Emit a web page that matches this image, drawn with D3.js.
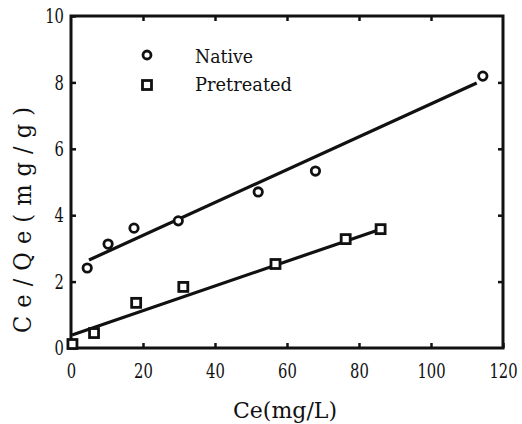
<!DOCTYPE html>
<html>
<head>
    <script src="https://d3js.org/d3.v7.min.js"></script>
    <style>
        body, html { margin: 0; background: #fff; }
    </style>
</head>
<body>
<div id="chart"></div>
<script>
    // readings taken off the scanned figure
    const nativeCe = [4.5, 10.3, 17.5, 29.8, 52, 67.9, 114.4];
    const nativeCq = [2.41, 3.13, 3.61, 3.83, 4.7, 5.33, 8.19];
    const pretCe = [0.4, 6.4, 18.1, 31.2, 56.8, 76.3, 86];
    const pretCq = [0.12, 0.45, 1.36, 1.84, 2.53, 3.28, 3.58];

    // fitted lines (end points)
    const nativeFitCe = [5, 112.7];
    const nativeFitCq = [2.65, 7.98];
    const pretFitCe = [0.3, 86];
    const pretFitCq = [0.39, 3.58];

    const xTicks = [0, 20, 40, 60, 80, 100, 120];
    const yTicks = [0, 2, 4, 6, 8, 10];

    const width = 522, height = 424;
    const serif = "'DejaVu Serif Condensed', 'DejaVu Serif', serif";
    const svg = d3.select("#chart").append("svg")
        .attr("width", width).attr("height", height);

    const x = d3.scaleLinear().domain([0, 120]).range([71, 503]);
    const y = d3.scaleLinear().domain([0, 10]).range([348, 16]);

    const ink = "#111";
    const squeeze = 0.78; // the scanned digits are tall and narrow

    // axes, ticks pointing inward
    const gx = svg.append("g").attr("transform", `translate(0,${y(0)})`)
        .call(d3.axisBottom(x).tickValues(xTicks).tickSize(-5).tickPadding(15));
    const gy = svg.append("g").attr("transform", `translate(${x(0)},0)`)
        .call(d3.axisLeft(y).tickValues(yTicks).tickSize(-5).tickPadding(7));
    const gt = svg.append("g").attr("transform", `translate(0,${y(10)})`)
        .call(d3.axisTop(x).tickValues(xTicks.slice(1, -1)).tickSize(-5).tickFormat(""));
    const gr = svg.append("g").attr("transform", `translate(${x(120)},0)`)
        .call(d3.axisRight(y).tickValues(yTicks.slice(1, -1)).tickSize(-5).tickFormat(""));

    [gx, gy, gt, gr].forEach(g => {
        g.attr("font-family", serif);
        g.select(".domain").remove();
        g.selectAll(".tick line").attr("stroke", ink).attr("stroke-width", 2.5);
        g.selectAll(".tick text").attr("font-size", 21).attr("fill", ink)
            .attr("transform", `scale(${squeeze},1)`);
    });
    gy.selectAll(".tick text").attr("x", -7 / squeeze);

    // frame
    svg.append("rect")
        .attr("x", x(0)).attr("y", y(10))
        .attr("width", x(120) - x(0)).attr("height", y(0) - y(10))
        .attr("fill", "none").attr("stroke", ink).attr("stroke-width", 3);

    const line = d3.line().x(d => x(d[0])).y(d => y(d[1]));

    svg.append("path")
        .datum(d3.zip(nativeFitCe, nativeFitCq))
        .attr("d", line).attr("fill", "none").attr("stroke", ink).attr("stroke-width", 3.2);
    svg.append("path")
        .datum(d3.zip(pretFitCe, pretFitCq))
        .attr("d", line).attr("fill", "none").attr("stroke", ink).attr("stroke-width", 3.2);

    // markers
    svg.selectAll(".nat").data(d3.zip(nativeCe, nativeCq)).join("circle")
        .attr("class", "nat")
        .attr("cx", d => x(d[0])).attr("cy", d => y(d[1])).attr("r", 4.2)
        .attr("fill", "#fff").attr("stroke", ink).attr("stroke-width", 2.8);
    svg.selectAll(".pre").data(d3.zip(pretCe, pretCq)).join("rect")
        .attr("class", "pre")
        .attr("x", d => x(d[0]) - 4.5).attr("y", d => y(d[1]) - 4.5)
        .attr("width", 9).attr("height", 9)
        .attr("fill", "#fff").attr("stroke", ink).attr("stroke-width", 2.8);

    // legend
    svg.append("circle").attr("cx", 147).attr("cy", 55).attr("r", 4)
        .attr("fill", "#fff").attr("stroke", ink).attr("stroke-width", 2.8);
    svg.append("rect").attr("x", 142.5).attr("y", 80.5).attr("width", 9).attr("height", 9)
        .attr("fill", "#fff").attr("stroke", ink).attr("stroke-width", 2.8);
    const legText = svg.append("g").attr("font-family", serif).attr("font-size", 19).attr("fill", ink);
    legText.append("text").attr("x", 195).attr("y", 63)
        .attr("textLength", 58).attr("lengthAdjust", "spacingAndGlyphs").text("Native");
    legText.append("text").attr("x", 195).attr("y", 91)
        .attr("textLength", 97).attr("lengthAdjust", "spacingAndGlyphs").text("Pretreated");

    // axis titles
    svg.append("text").attr("x", 233).attr("y", 418).attr("font-size", 23)
        .attr("font-family", serif).attr("fill", ink)
        .attr("textLength", 104).attr("lengthAdjust", "spacingAndGlyphs").text("Ce(mg/L)");
    svg.append("text")
        .attr("transform", "translate(31,333) rotate(-90)")
        .attr("font-size", 25).attr("font-family", serif).attr("fill", ink)
        .attr("textLength", 226).attr("lengthAdjust", "spacing").text("Ce/Qe(mg/g)");
</script>
</body>
</html>
